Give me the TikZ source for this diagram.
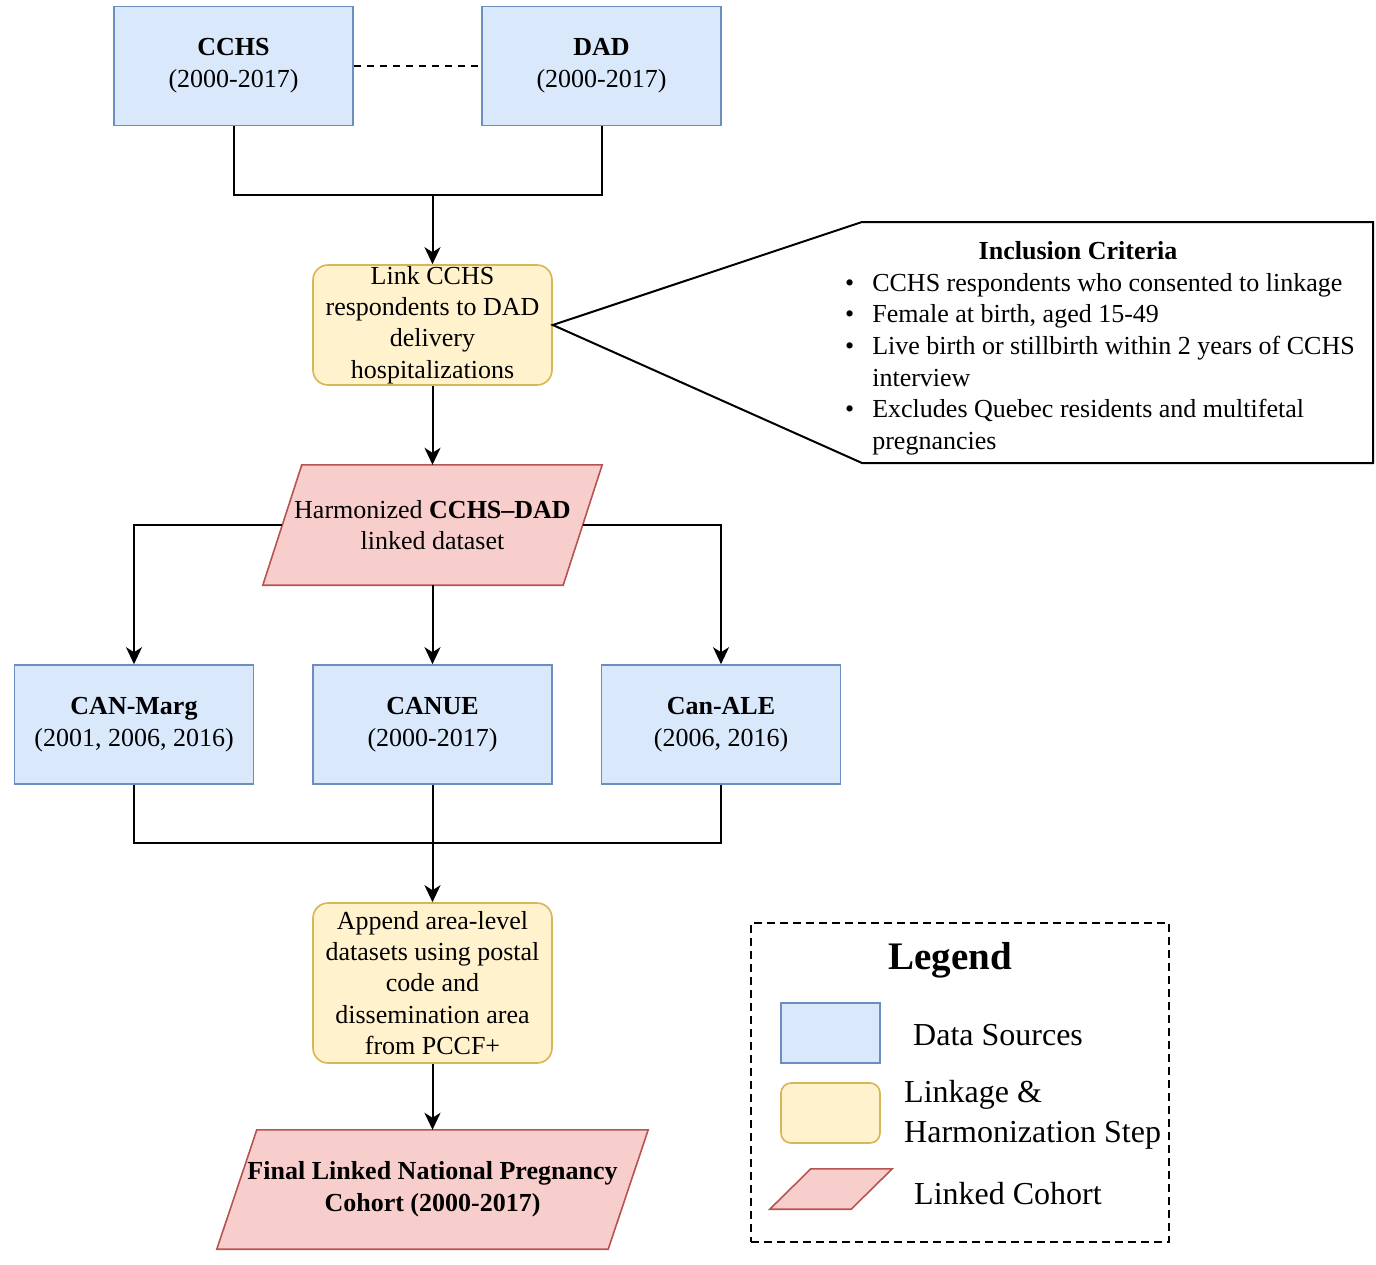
\documentclass[tikz,border=0pt]{standalone}
\usepackage{fontspec}
\setmainfont{Liberation Serif}
\usetikzlibrary{arrows.meta,calc,backgrounds}
\definecolor{bluefill}{HTML}{DAE8FC}
\definecolor{bluedraw}{HTML}{6C8EBF}
\definecolor{yelfill}{HTML}{FFF2CC}
\definecolor{yeldraw}{HTML}{D6B656}
\definecolor{redfill}{HTML}{F8CECC}
\definecolor{reddraw}{HTML}{B85450}
\begin{document}
\begin{tikzpicture}[x=1pt,y=-1pt,
  srcbox/.style={draw=bluedraw,fill=bluefill,line width=1.6pt,minimum width=239pt,minimum height=119pt,inner sep=0pt,align=center,font=\fontsize{26}{32}\selectfont},
  stepbox/.style={draw=yeldraw,fill=yelfill,line width=1.6pt,rounded corners=15pt,minimum width=239pt,inner sep=0pt,align=center,font=\fontsize{26}{31.2}\selectfont},
  cohort/.style={inner sep=0pt,align=center,font=\fontsize{26}{31}\selectfont},
  cohortshape/.style={draw=reddraw,fill=redfill,line width=1.6pt},
  link/.style={line width=2pt,black},
  arr/.style={link,-{Stealth[length=17pt,width=16pt,inset=5pt]}},
  legtext/.style={anchor=west,inner sep=0pt,align=left,font=\fontsize{32}{40}\selectfont},
]
\useasboundingbox (0,0) rectangle (1376,1264);
\begin{scope}[on background layer]
\fill[white] (0,0) rectangle (1376,1264);
\end{scope}

% data sources
\node[srcbox] (cchs) at (233.5,66) {\textbf{CCHS}\\(2000-2017)};
\node[srcbox] (dad) at (601.5,66) {\textbf{DAD}\\(2000-2017)};
\draw[link,dash pattern=on 7pt off 6pt] (cchs) -- (dad);

\coordinate (j1) at (432.5,195);
\node[stepbox,minimum height=120pt] (linkstep) at (432.5,325) {Link CCHS\\respondents to DAD\\delivery\\hospitalizations};
\draw[link] (cchs.south) -- (cchs.south |- j1) -- (dad.south |- j1) -- (dad.south);
\draw[arr] (j1) -- (linkstep.north);

% callout
\draw[link,fill=white,line join=miter] (linkstep.east) -- (862,222) -- (1373,222) -- (1373,463) -- (862,463) -- cycle;
\node[font=\bfseries\fontsize{26}{31}\selectfont,inner sep=0pt] (crittitle) at (1078,251) {Inclusion Criteria};
\node[anchor=west,inner sep=0pt,font=\fontsize{26}{31.6}\selectfont] (critlist) at (845,364) {%
\begin{tabular}{@{}l@{\hspace{18pt}}l@{}}
\textbullet & CCHS respondents who consented to linkage\\
\textbullet & Female at birth, aged 15-49\\
\textbullet & Live birth or stillbirth within 2 years of CCHS\\
 & interview\\
\textbullet & Excludes Quebec residents and multifetal\\
 & pregnancies
\end{tabular}};

% harmonized
\node[cohort,minimum width=339pt,minimum height=120pt] (harm) at (432.5,525) {Harmonized \textbf{CCHS--DAD}\\linked dataset};
\begin{scope}[on background layer]
\draw[cohortshape] (harm.south west) -- ([xshift=39pt]harm.north west) -- (harm.north east) -- ([xshift=-39pt]harm.south east) -- cycle;
\end{scope}
\draw[arr] (linkstep.south) -- (harm.north);

% area-level sources
\node[srcbox] (marg) at (134,724.5) {\textbf{CAN-Marg}\\(2001, 2006, 2016)};
\node[srcbox] (canue) at (432.5,724.5) {\textbf{CANUE}\\(2000-2017)};
\node[srcbox] (ale) at (721,724.5) {\textbf{Can-ALE}\\(2006, 2016)};
\draw[arr] ($(harm.west)+(19.5,0)$) -| (marg.north);
\draw[arr] (harm.south) -- (canue.north);
\draw[arr] ($(harm.east)-(19.5,0)$) -| (ale.north);

\coordinate (j2) at (432.5,843);
\node[stepbox,minimum height=160pt] (append) at (432.5,983) {Append area-level\\datasets using postal\\code and\\dissemination area\\from PCCF+};
\draw[link] (marg.south) -- (marg.south |- j2) -- (ale.south |- j2) -- (ale.south);
\draw[arr] (canue.south) -- (append.north);

% final cohort
\node[cohort,minimum width=431pt,minimum height=119pt,font=\bfseries\fontsize{26}{32}\selectfont] (final) at (432.5,1189.5) {Final Linked National Pregnancy\\Cohort (2000-2017)};
\begin{scope}[on background layer]
\draw[cohortshape] (final.south west) -- ([xshift=40pt]final.north west) -- (final.north east) -- ([xshift=-40pt]final.south east) -- cycle;
\end{scope}
\draw[arr] (append.south) -- (final.north);

% legend
\node[draw,line width=1.6pt,dash pattern=on 8pt off 5pt,minimum width=418pt,minimum height=319pt,inner sep=0pt] (legend) at (960,1082.5) {};
\node[font=\bfseries\fontsize{39}{45}\selectfont,inner sep=0pt] (legtitle) at (950,960) {Legend};
\node[draw=bluedraw,fill=bluefill,line width=1.6pt,minimum width=99pt,minimum height=60pt,inner sep=0pt] (lgsrc) at (830.5,1033) {};
\node[legtext] (lgsrctxt) at (913,1035) {Data Sources};
\node[draw=yeldraw,fill=yelfill,line width=1.6pt,rounded corners=10pt,minimum width=99pt,minimum height=60pt,inner sep=0pt] (lgstep) at (830.5,1113) {};
\node[legtext] (lgsteptxt) at (904,1115) {Linkage \&\\Harmonization Step};
\node[minimum width=122pt,minimum height=40pt,inner sep=0pt] (lgcoh) at (831,1189) {};
\draw[cohortshape] (lgcoh.south west) -- ([xshift=41pt]lgcoh.north west) -- (lgcoh.north east) -- ([xshift=-41pt]lgcoh.south east) -- cycle;
\node[legtext] (lgcohtxt) at (914,1194) {Linked Cohort};
\end{tikzpicture}
\end{document}
